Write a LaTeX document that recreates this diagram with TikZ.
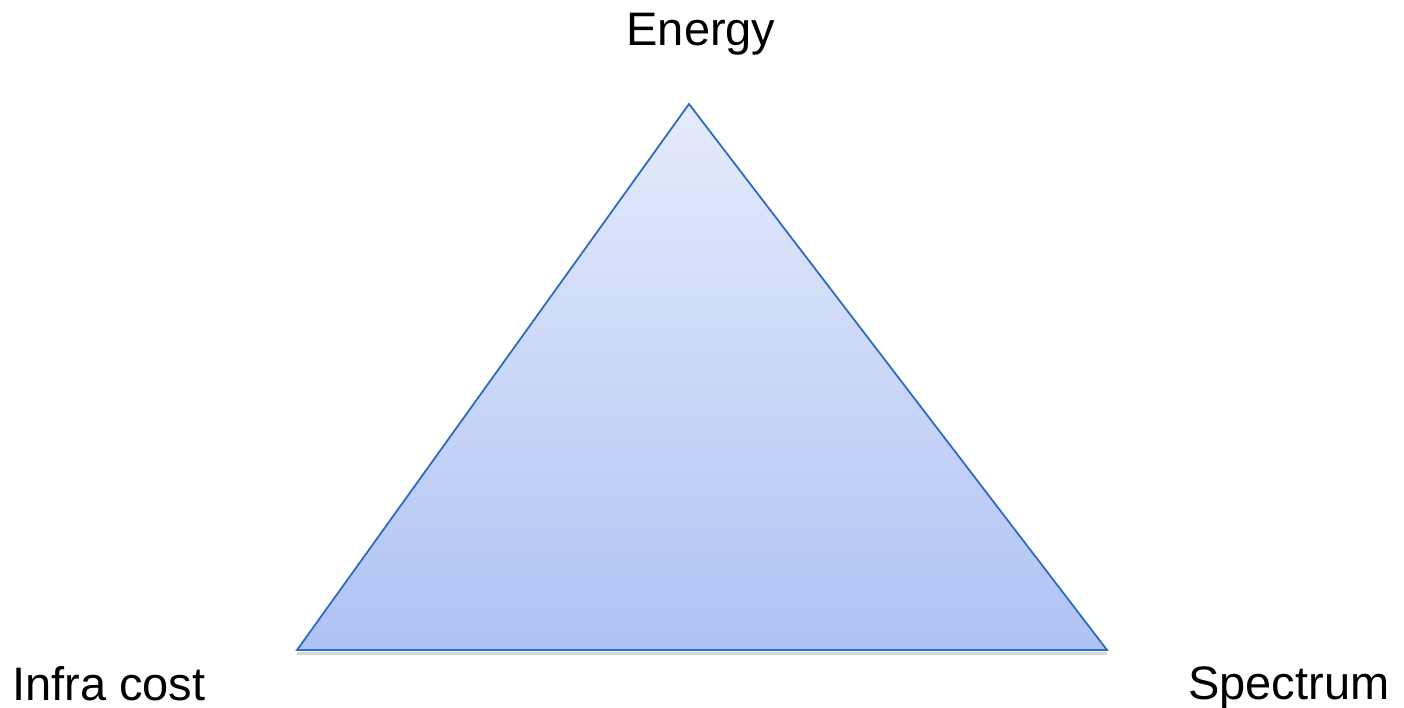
\documentclass[tikz,border=0pt]{standalone}
\usepackage{fontspec}
\setmainfont{Liberation Sans}
\definecolor{edgeblue}{HTML}{2F6CC0}
\definecolor{toplight}{HTML}{E5EBFB}
\definecolor{botblue}{HTML}{AEC2F3}
\begin{document}
\begin{tikzpicture}[x=1pt,y=-1pt,
  lbl/.style={inner sep=0pt,font=\fontsize{47}{56}\selectfont,text=black}]
\useasboundingbox (0,0) rectangle (1404,707);
\coordinate (top) at (689,104);
\coordinate (bl) at (297,650);
\coordinate (br) at (1107,650);
% soft shadow below the base
\draw[black!45,opacity=0.35,line width=3pt] ([yshift=-3pt]bl) -- ([yshift=-3pt]br);
\shade[top color=toplight,bottom color=botblue] (top) -- (br) -- (bl) -- cycle;
\draw[edgeblue,line width=1.8pt,line join=miter] (top) -- (br) -- (bl) -- cycle;
\node[lbl,anchor=base] (energy) at (701,45) {Energy};
\node[lbl,anchor=base west] (infra) at (12,700) {Infra cost};
\node[lbl,anchor=base west] (spectrum) at (1188,699) {Spectrum};
\end{tikzpicture}
\end{document}
